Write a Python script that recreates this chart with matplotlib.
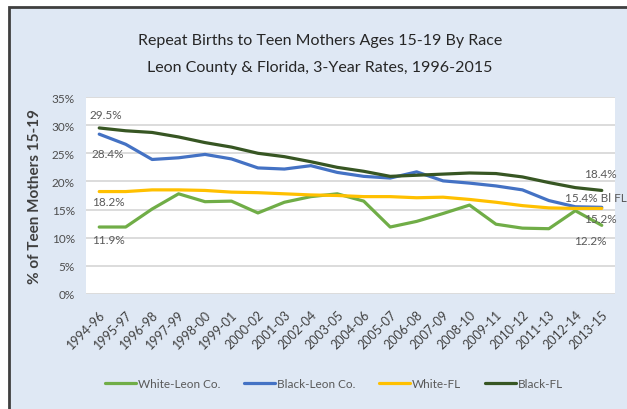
import matplotlib
matplotlib.use("Agg")
import matplotlib.pyplot as plt
from matplotlib.patches import Rectangle
import numpy as np

plt.rcParams['font.family'] = ['Lato', 'DejaVu Sans']

periods = ['1994-96', '1995-97', '1996-98', '1997-99', '1998-00', '1999-01',
           '2000-02', '2001-03', '2002-04', '2003-05', '2004-06', '2005-07',
           '2006-08', '2007-09', '2008-10', '2009-11', '2010-12', '2011-13',
           '2012-14', '2013-15']

white_leon = [11.9, 11.9, 15.1, 17.8, 16.4, 16.5, 14.4, 16.3, 17.3, 17.8,
              16.5, 11.9, 12.9, 14.3, 15.8, 12.4, 11.7, 11.6, 14.8, 12.2]
black_leon = [28.4, 26.6, 23.9, 24.2, 24.8, 24.0, 22.4, 22.2, 22.8, 21.6,
              20.9, 20.6, 21.7, 20.1, 19.7, 19.2, 18.5, 16.6, 15.5, 15.4]
white_fl = [18.2, 18.2, 18.5, 18.5, 18.4, 18.1, 18.0, 17.8, 17.6, 17.5,
            17.3, 17.3, 17.1, 17.2, 16.8, 16.3, 15.7, 15.3, 15.2, 15.2]
black_fl = [29.5, 29.0, 28.7, 27.9, 26.9, 26.1, 25.0, 24.4, 23.5, 22.5,
            21.8, 20.9, 21.1, 21.3, 21.5, 21.4, 20.8, 19.8, 18.9, 18.4]

series = [
    ('White-Leon Co.', white_leon, '#70ad47'),
    ('Black-Leon Co.', black_leon, '#4472c4'),
    ('White-FL', white_fl, '#ffc000'),
    ('Black-FL', black_fl, '#375623'),
]

W, H = 627, 410
fig = plt.figure(figsize=(W / 100, H / 100), dpi=100)
fig.patch.set_facecolor('white')

# light blue chart panel with dark border on top/left
panel = Rectangle((9 / W, -0.05), 1.2, 1 - 8 / H + 0.05, transform=fig.transFigure,
                  facecolor='#dfe8f4', edgecolor='#3f3f3f', linewidth=2, zorder=-5)
fig.patches.append(panel)

ax = fig.add_axes([86 / W, (H - 295) / H, (615 - 86) / W, (295 - 98) / H])
ax.set_zorder(2)
ax.set_facecolor('white')

x = np.arange(len(periods))
for name, vals, col in series:
    ax.plot(x, vals, color=col, lw=2.3, label=name, solid_capstyle='round', zorder=3)

ax.set_xlim(-0.5, len(periods) - 0.5)
ax.set_ylim(0, 35)
ax.set_yticks(range(0, 36, 5))
ax.set_yticklabels([f'{v}%' for v in range(0, 36, 5)], fontsize=8.5, color='#4d4d4d')
ax.yaxis.grid(True, color='#d9d9d9', lw=1.3)
ax.set_axisbelow(True)
ax.tick_params(axis='y', length=0, pad=8)
ax.tick_params(axis='x', length=0, pad=0)
ax.set_xticks(x)
ax.set_xticklabels([])
for i, p in enumerate(periods):
    ax.annotate(p, (i, 0), xytext=(4, -18), textcoords='offset pixels',
                rotation=45, rotation_mode='anchor', ha='right', va='center',
                fontsize=9, color='#404040', annotation_clip=False)
for s in ax.spines.values():
    s.set_visible(False)

ax.set_ylabel('% of Teen Mothers 15-19', fontsize=11, fontweight='bold',
              color='#404040')
ax.yaxis.set_label_coords(-44 / (615 - 86), 0.5)

# end-point value labels
lab = dict(fontsize=8.5, color='#595959', textcoords='offset pixels', annotation_clip=False)
ax.annotate('29.5%', (0, black_fl[0]), xytext=(7, 13), ha='center', va='center', **lab)
ax.annotate('28.4%', (0, black_leon[0]), xytext=(9, -19), ha='center', va='center', **lab)
ax.annotate('18.2%', (0, white_fl[0]), xytext=(9, -10), ha='center', va='center', **lab)
ax.annotate('11.9%', (0, white_leon[0]), xytext=(9, -12), ha='center', va='center', **lab)
n = len(periods) - 1
ax.annotate('18.4%', (n, black_fl[-1]), xytext=(-1, 17), ha='center', va='center', **lab)
ax.annotate('15.4% Bl FL', (n, black_leon[-1]), xytext=(-37, 10), ha='left', va='center', **lab)
ax.annotate('15.2%', (n, white_fl[-1]), xytext=(-1, -10), ha='center', va='center', **lab)
ax.annotate('12.2%', (n, white_leon[-1]), xytext=(-11, -15), ha='center', va='center', **lab)

fig.text(320 / W, 1 - 41 / H, 'Repeat Births to Teen Mothers Ages 15-19 By Race',
         ha='center', va='center', fontsize=11.5, color='#262626')
fig.text(320 / W, 1 - 68 / H, 'Leon County & Florida, 3-Year Rates, 1996-2015',
         ha='center', va='center', fontsize=11.5, color='#262626')

fig.legend(loc='center', bbox_to_anchor=(334 / W, 1 - 385 / H), ncol=4, frameon=False,
           fontsize=8.5, handlelength=2.6, handletextpad=0.2, columnspacing=2.0,
           labelcolor='#595959')

fig.savefig('out.png', dpi=100, facecolor=fig.get_facecolor())
